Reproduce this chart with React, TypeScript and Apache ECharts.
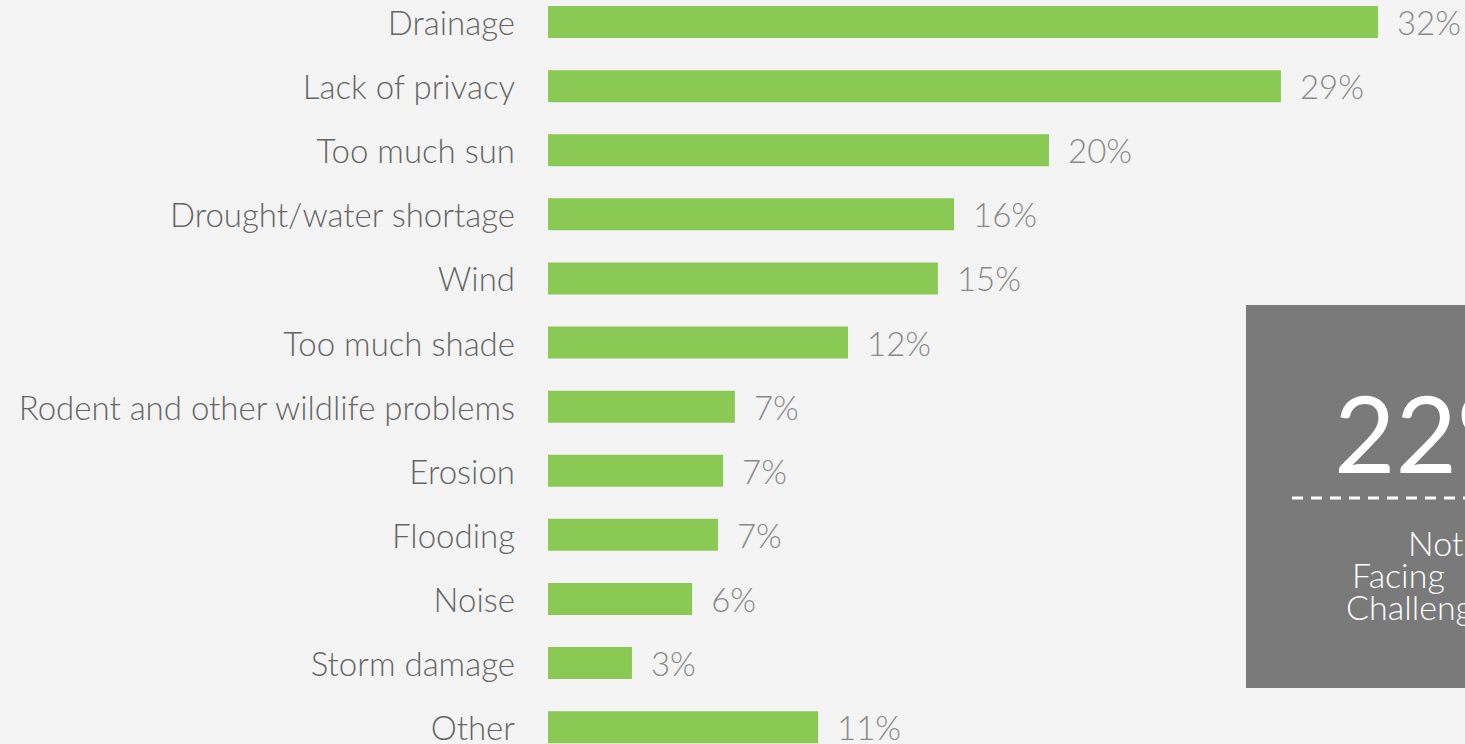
import React, { useEffect, useRef } from "react";
import * as echarts from "echarts";

const categories = [
  "Drainage",
  "Lack of privacy",
  "Too much sun",
  "Drought/water shortage",
  "Wind",
  "Too much shade",
  "Rodent and other wildlife problems",
  "Erosion",
  "Flooding",
  "Noise",
  "Storm damage",
  "Other",
];
const values = [32.42, 28.63, 19.57, 15.86, 15.23, 11.72, 7.3, 6.84, 6.64, 5.63, 3.28, 10.55];
const calloutValue = "22%";
const calloutLines = ["Not", "Facing", "Challenges"];

const FONT = "Lato, 'Open Sans', sans-serif";
const OFF = 10; // container is shifted up by this many px

export default function App() {
  const ref = useRef<HTMLDivElement>(null);
  useEffect(() => {
    if (!ref.current) return;
    const chart = echarts.init(ref.current, undefined, { renderer: "svg" });
    const lineIndents = [62, 6, 0];
    chart.setOption({
      animation: false,
      backgroundColor: "#f4f4f4",
      grid: { left: 548, top: 0, width: 896, height: 769.2, containLabel: false },
      xAxis: {
        type: "value",
        min: 0,
        max: 35,
        show: false,
      },
      yAxis: {
        type: "category",
        inverse: true,
        data: categories,
        axisLine: { show: false },
        axisTick: { show: false },
        axisLabel: {
          margin: 33,
          color: "#666666",
          fontFamily: FONT,
          fontWeight: 300,
          fontSize: 33,
          padding: [4, 0, 0, 0],
        },
      },
      series: [
        {
          type: "bar",
          data: values,
          barWidth: 32,
          itemStyle: { color: "#8bc955" },
          label: {
            show: true,
            position: "right",
            distance: 19,
            color: "#8a8a8a",
            fontFamily: FONT,
            fontWeight: 300,
            fontSize: 33,
            padding: [4, 0, 0, 0],
            formatter: (p: any) => Math.round(p.value) + "%",
          },
        },
      ],
      graphic: [
        {
          type: "rect",
          shape: { x: 1246, y: 305 + OFF, width: 400, height: 383 },
          style: { fill: "#7a7a7a" },
          silent: true,
        },
        {
          type: "text",
          x: 1334,
          y: 432 + OFF,
          style: {
            text: calloutValue,
            fill: "#ffffff",
            font: `400 106px ${FONT}`,
            textVerticalAlign: "middle",
          },
        },
        {
          type: "line",
          shape: { x1: 1292, y1: 498 + OFF, x2: 1600, y2: 498 + OFF },
          style: { stroke: "#ffffff", lineWidth: 3, lineDash: [11, 8] },
        },
        {
          type: "text",
          x: 1346,
          y: 526 + OFF,
          style: {
            text: calloutLines.map((t, i) => `{l${i}|${t}}`).join("\n"),
            fill: "#ffffff",
            font: `300 34px ${FONT}`,
            lineHeight: 32,
            textVerticalAlign: "top",
            rich: Object.fromEntries(
              lineIndents.map((p, i) => [
                `l${i}`,
                {
                  fill: "#ffffff",
                  fontFamily: FONT,
                  fontWeight: 300,
                  fontSize: 34,
                  lineHeight: 32,
                  padding: [0, 0, 0, p],
                },
              ])
            ),
          },
        },
      ],
    });
    return () => chart.dispose();
  }, []);
  return (
    <div
      ref={ref}
      style={{ position: "fixed", left: 0, top: -OFF, width: 1465, height: 744 + 30 }}
    />
  );
}
